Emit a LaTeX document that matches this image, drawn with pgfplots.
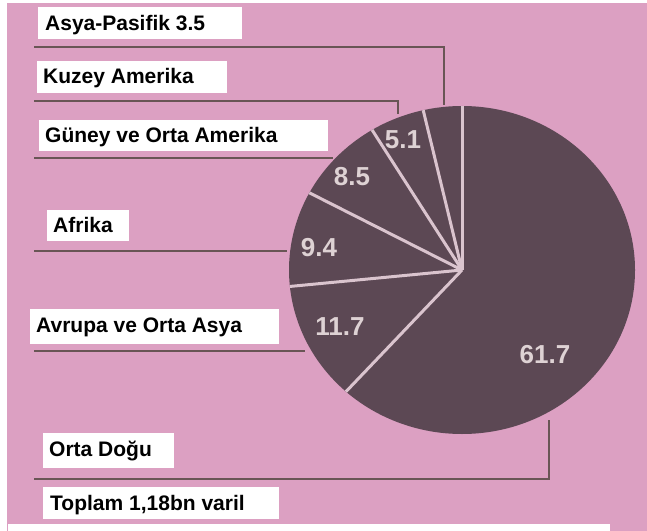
\documentclass[border=0pt]{standalone}
\usepackage{pgfplots}
\pgfplotsset{compat=1.18}
\usepackage{fontspec}
\setmainfont{Liberation Sans}

\definecolor{bgpink}{RGB}{220,160,194}
\definecolor{piebrown}{RGB}{92,72,84}
\definecolor{pieline}{RGB}{218,196,206}
\definecolor{pielabel}{RGB}{222,210,212}
\definecolor{leader}{RGB}{105,85,85}

% slice: start share, share (percent), clockwise from 12 o'clock
\newcommand{\pieslice}[2]{%
  \fill[piebrown] (axis cs:462,270) -- +({90-3.6*#1}:173bp and 164bp)
    arc[start angle={90-3.6*#1}, end angle={90-3.6*(#1+#2)},
        x radius=173bp, y radius=164bp] -- cycle;}
\newcommand{\piesep}[1]{%
  \draw[pieline, line width=3bp] (axis cs:462,270) -- +({90-3.6*#1}:173bp and 164bp);}
\newcommand{\tag}[6]{% box x1,y1,x2,y2, baseline-x/y via #5, text #6
  \fill[white] (axis cs:#1,#2) rectangle (axis cs:#3,#4);
  \node[anchor=base west, inner sep=0pt, font=\fontsize{21bp}{24bp}\selectfont\bfseries]
    at (axis cs:#5) {#6};}

\begin{document}
\begin{tikzpicture}
\begin{axis}[
  x=1bp, y=1bp, y dir=reverse,
  xmin=0, xmax=647, ymin=0, ymax=531,
  hide axis, clip=false,
]
% background
\fill[white] (axis cs:0,0) rectangle (axis cs:647,531);
\fill[bgpink] (axis cs:7,3) rectangle (axis cs:647,531);
\fill[white] (axis cs:8,524) rectangle (axis cs:610,531);

% pie: Orta Dogu, Avrupa ve Orta Asya, Afrika, Guney ve Orta Amerika, Kuzey Amerika, Asya-Pasifik
\pieslice{0}{61.7}
\pieslice{61.7}{11.7}
\pieslice{73.4}{9.4}
\pieslice{82.8}{8.5}
\pieslice{91.3}{5.1}
\pieslice{96.4}{3.6}
\piesep{0}
\piesep{61.7}
\piesep{73.4}
\piesep{82.8}
\piesep{91.3}
\piesep{96.4}

\begin{scope}[every node/.style={text=pielabel, font=\fontsize{26bp}{30bp}\selectfont\bfseries}]
\node at (axis cs:545,355) {61.7};
\node at (axis cs:340,327) {11.7};
\node at (axis cs:319,248) {9.4};
\node at (axis cs:352,177) {8.5};
\node at (axis cs:403,140) {5.1};
\end{scope}

% leader lines
\begin{scope}[leader, line width=1.8bp]
\draw (axis cs:34,47) -- (axis cs:444,47) -- (axis cs:444,105);
\draw (axis cs:34,101) -- (axis cs:398,101) -- (axis cs:398,114);
\draw (axis cs:34,158) -- (axis cs:333,158);
\draw (axis cs:34,251) -- (axis cs:287,251);
\draw (axis cs:34,351) -- (axis cs:305,351);
\draw (axis cs:34,479) -- (axis cs:549,479) -- (axis cs:549,420);
\end{scope}

% labels
\tag{38}{7}{242}{39}{45,31}{Asya-Pasifik 3.5}
\tag{37}{61}{227}{93}{43,84}{Kuzey Amerika}
\tag{39}{120}{328}{151}{45,143}{Güney ve Orta Amerika}
\tag{47}{210}{129}{241}{53,233}{Afrika}
\tag{30}{309}{279}{344}{36,332}{Avrupa ve Orta Asya}
\tag{43}{433}{174}{468}{49,456}{Orta Doğu}
\tag{43}{487}{279}{519}{50,510}{Toplam 1,18bn varil}
\end{axis}
\end{tikzpicture}
\end{document}
